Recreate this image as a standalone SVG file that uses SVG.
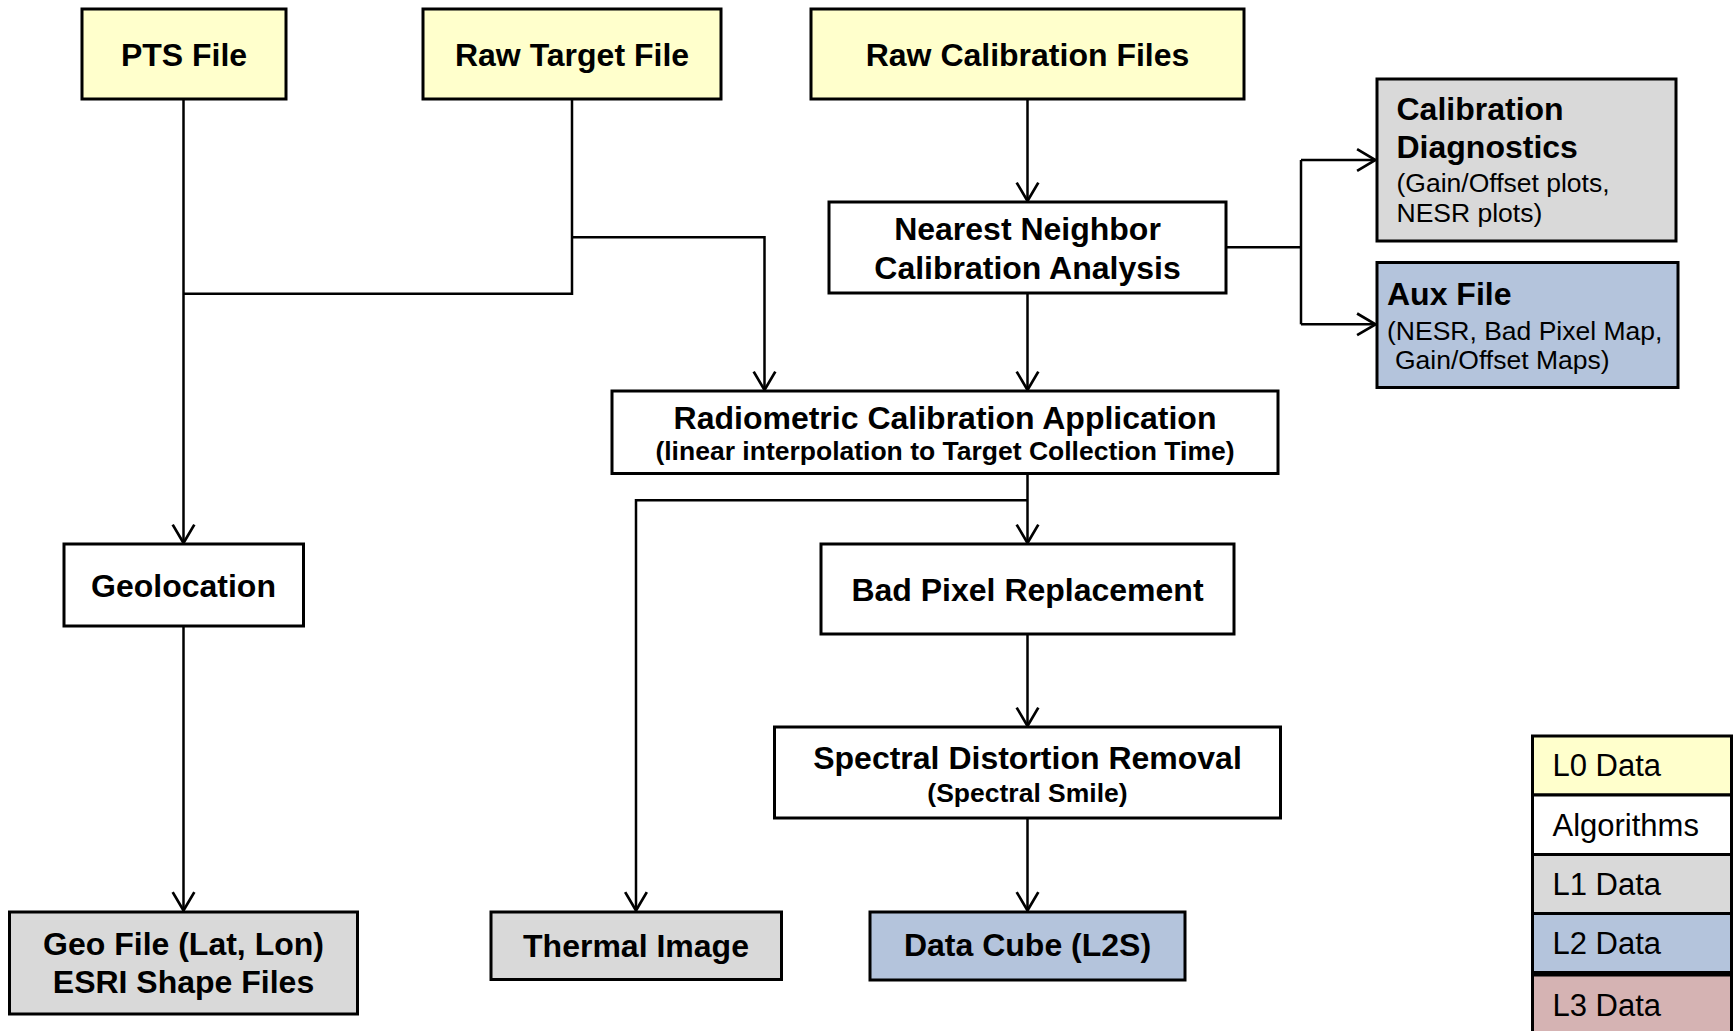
<svg xmlns="http://www.w3.org/2000/svg" width="1734" height="1031" viewBox="0 0 1734 1031">
<style>
  .box { stroke: #000; stroke-width: 3; }
  .l0 { fill: #ffffcc; }
  .alg { fill: #ffffff; }
  .l1 { fill: #d9d9d9; }
  .l2 { fill: #b4c4dc; }
  .l3 { fill: #d5b3b3; }
  .t { font-family: "Liberation Sans", Arial, sans-serif; font-weight: bold; font-size: 32px; fill: #000; text-anchor: middle; }
  .s { font-family: "Liberation Sans", Arial, sans-serif; font-weight: bold; font-size: 26.5px; fill: #000; text-anchor: middle; }
  .tl { font-family: "Liberation Sans", Arial, sans-serif; font-weight: bold; font-size: 32px; fill: #000; }
  .r { font-family: "Liberation Sans", Arial, sans-serif; font-size: 26.5px; fill: #000; }
  .lg { font-family: "Liberation Sans", Arial, sans-serif; font-size: 31px; fill: #000; }
  .c { fill: none; stroke: #000; stroke-width: 2.5; }
</style>
<defs>
  <marker id="arr" markerUnits="userSpaceOnUse" markerWidth="24" markerHeight="26" viewBox="-20 -12 22 24" refX="0" refY="0" orient="auto">
    <path d="M-17,-10 L0,0 L-17,10" fill="none" stroke="#000" stroke-width="2.5"/>
  </marker>
</defs>
<rect width="1734" height="1031" fill="#ffffff"/>

<g id="connectors">
  <path class="c" d="M183.5,99 V543" marker-end="url(#arr)"/>
  <path class="c" d="M572,99 V293.7 H183.5"/>
  <path class="c" d="M572,237.3 H764.5 V390" marker-end="url(#arr)"/>
  <path class="c" d="M1027.5,99 V201" marker-end="url(#arr)"/>
  <path class="c" d="M1027.5,293 V390" marker-end="url(#arr)"/>
  <path class="c" d="M1226,247.3 H1301"/>
  <path class="c" d="M1301,160 V324.3"/>
  <path class="c" d="M1301,160 H1375.5" marker-end="url(#arr)"/>
  <path class="c" d="M1301,324.3 H1375.5" marker-end="url(#arr)"/>
  <path class="c" d="M1027.5,473.5 V543" marker-end="url(#arr)"/>
  <path class="c" d="M1027.5,500.3 H636 V910.5" marker-end="url(#arr)"/>
  <path class="c" d="M183.5,626 V910.5" marker-end="url(#arr)"/>
  <path class="c" d="M1027.5,634 V726" marker-end="url(#arr)"/>
  <path class="c" d="M1027.5,818 V910.5" marker-end="url(#arr)"/>
</g>

<g id="pts-file">
  <rect class="box l0" x="82" y="9" width="204" height="90"/>
  <text class="t" x="184" y="66">PTS File</text>
</g>
<g id="raw-target-file">
  <rect class="box l0" x="423" y="9" width="298" height="90"/>
  <text class="t" x="572" y="66">Raw Target File</text>
</g>
<g id="raw-calibration-files">
  <rect class="box l0" x="811" y="9" width="433" height="90"/>
  <text class="t" x="1027.5" y="66">Raw Calibration Files</text>
</g>
<g id="nearest-neighbor">
  <rect class="box alg" x="829" y="202" width="397" height="91"/>
  <text class="t" x="1027.5" y="239.5">Nearest Neighbor</text>
  <text class="t" x="1027.5" y="278.5">Calibration Analysis</text>
</g>
<g id="calibration-diagnostics">
  <rect class="box l1" x="1377" y="79" width="299" height="162"/>
  <text class="tl" x="1396.5" y="119.5">Calibration</text>
  <text class="tl" x="1396.5" y="157.5">Diagnostics</text>
  <text class="r" x="1396.5" y="191.5">(Gain/Offset plots,</text>
  <text class="r" x="1396.5" y="222">NESR plots)</text>
</g>
<g id="aux-file">
  <rect class="box l2" x="1377" y="262.5" width="301" height="125"/>
  <text class="tl" x="1387" y="305">Aux File</text>
  <text class="r" x="1387" y="339.5">(NESR, Bad Pixel Map,</text>
  <text class="r" x="1395" y="369">Gain/Offset Maps)</text>
</g>
<g id="radiometric-calibration">
  <rect class="box alg" x="612" y="391" width="666" height="82.5"/>
  <text class="t" x="945" y="428.5">Radiometric Calibration Application</text>
  <text class="s" x="945" y="459.5">(linear interpolation to Target Collection Time)</text>
</g>
<g id="geolocation">
  <rect class="box alg" x="64" y="544" width="239.5" height="82"/>
  <text class="t" x="183.5" y="596.5">Geolocation</text>
</g>
<g id="bad-pixel-replacement">
  <rect class="box alg" x="821" y="544" width="413" height="90"/>
  <text class="t" x="1027.5" y="601">Bad Pixel Replacement</text>
</g>
<g id="spectral-distortion-removal">
  <rect class="box alg" x="774.5" y="727" width="506" height="91"/>
  <text class="t" x="1027.5" y="769">Spectral Distortion Removal</text>
  <text class="s" x="1027.5" y="802">(Spectral Smile)</text>
</g>
<g id="geo-file">
  <rect class="box l1" x="9.5" y="912" width="348" height="102"/>
  <text class="t" x="183.5" y="954.5">Geo File (Lat, Lon)</text>
  <text class="t" x="183.5" y="993">ESRI Shape Files</text>
</g>
<g id="thermal-image">
  <rect class="box l1" x="491" y="912" width="290.5" height="67.5"/>
  <text class="t" x="636" y="957">Thermal Image</text>
</g>
<g id="data-cube">
  <rect class="box l2" x="870" y="912" width="315" height="68"/>
  <text class="t" x="1027.5" y="956">Data Cube (L2S)</text>
</g>

<g id="legend">
  <g id="legend-l0">
    <rect class="box l0" x="1532.5" y="736" width="199" height="59"/>
    <text class="lg" x="1552.5" y="776">L0 Data</text>
  </g>
  <g id="legend-algorithms">
    <rect class="box alg" x="1532.5" y="795" width="199" height="59.5"/>
    <text class="lg" x="1552.5" y="835.5">Algorithms</text>
  </g>
  <g id="legend-l1">
    <rect class="box l1" x="1532.5" y="854.5" width="199" height="59"/>
    <text class="lg" x="1552.5" y="894.5">L1 Data</text>
  </g>
  <g id="legend-l2">
    <rect class="box l2" x="1532.5" y="913.5" width="199" height="59"/>
    <text class="lg" x="1552.5" y="953.5">L2 Data</text>
  </g>
  <g id="legend-l3">
    <rect class="box l3" x="1532.5" y="975" width="199" height="70"/>
    <text class="lg" x="1552.5" y="1015.5">L3 Data</text>
  </g>
</g>
</svg>
